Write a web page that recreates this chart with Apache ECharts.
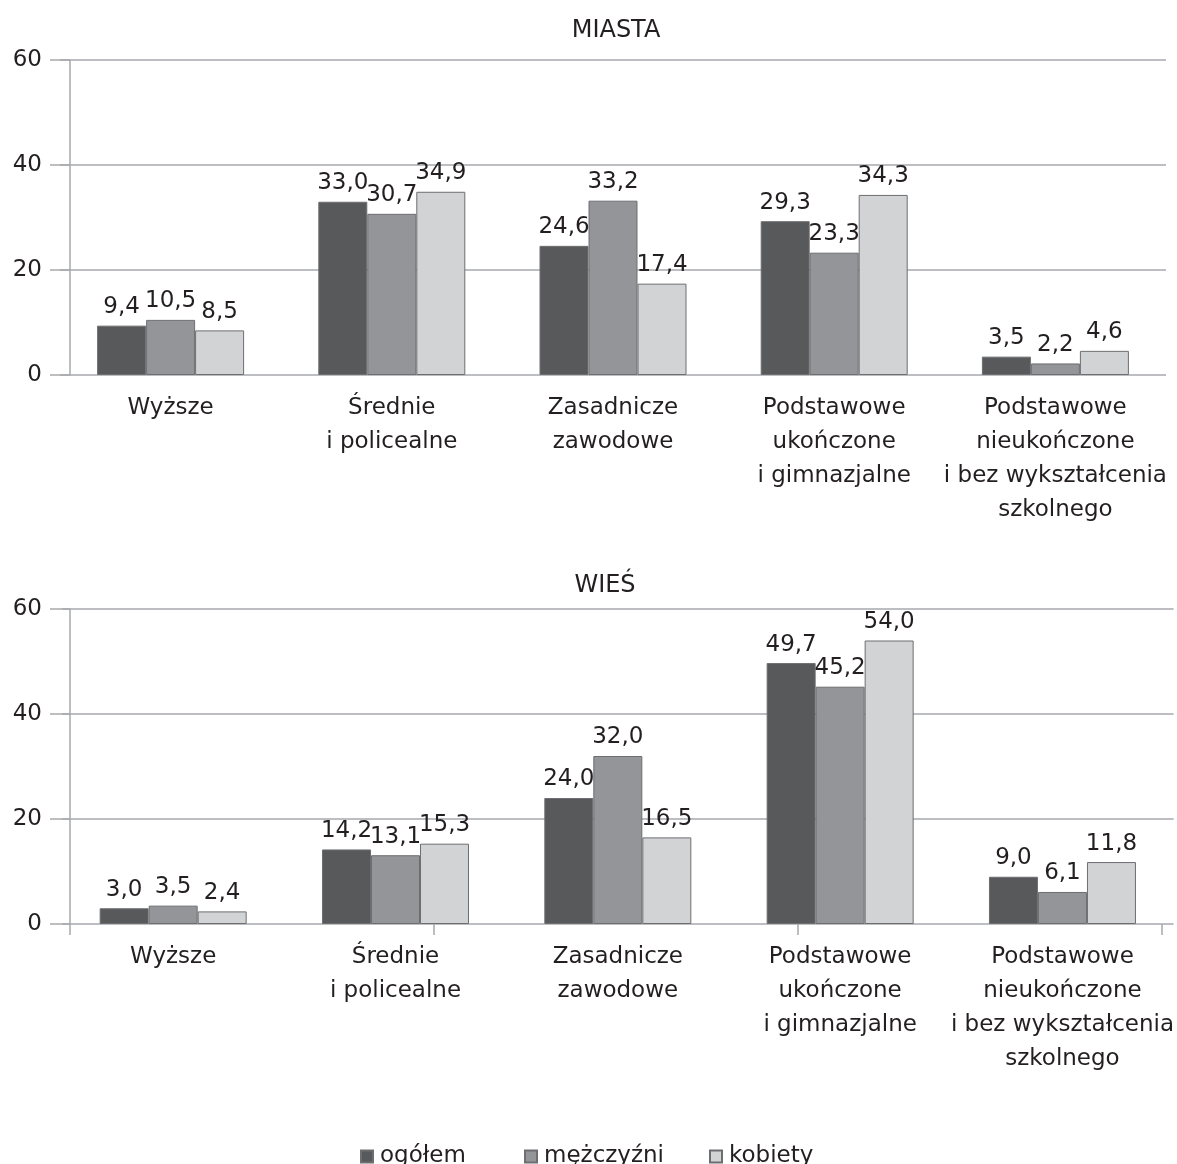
<!DOCTYPE html>
<html>
<head>
<meta charset="utf-8">
<script src="https://cdn.jsdelivr.net/npm/echarts@6/dist/echarts.min.js"></script>
<style>
html,body{margin:0;padding:0;background:#fff;}
#chart{width:1177px;height:1164px;}
</style>
</head>
<body>
<div id="chart"></div>
<script>
const categories = ['Wyższe', 'Średnie\ni policealne', 'Zasadnicze\nzawodowe', 'Podstawowe\nukończone\ni gimnazjalne', 'Podstawowe\nnieukończone\ni bez wykształcenia\nszkolnego'];
const seriesNames = ['ogółem', 'mężczyźni', 'kobiety'];
const miastaOgolem = [9.4, 33.0, 24.6, 29.3, 3.5];
const miastaMezczyzni = [10.5, 30.7, 33.2, 23.3, 2.2];
const miastaKobiety = [8.5, 34.9, 17.4, 34.3, 4.6];
const wiesOgolem = [3.0, 14.2, 24.0, 49.7, 9.0];
const wiesMezczyzni = [3.5, 13.1, 32.0, 45.2, 6.1];
const wiesKobiety = [2.4, 15.3, 16.5, 54.0, 11.8];
const yTicks = [0, 20, 40, 60];
const panelTitles = ['MIASTA', 'WIEŚ'];

const FONT = 'DejaVu Sans';
const TXT = '#231f20';
const GRIDC = '#a7a9ac';
const colors = ['#58595b', '#939598', '#d1d3d4'];

const chart = echarts.init(document.getElementById('chart'));

function fmt(p) { return p.value.toFixed(1).replace('.', ','); }

function makeSeries(name, data, idx, axisIdx) {
  return {
    name: name, type: 'bar', data: data,
    xAxisIndex: axisIdx, yAxisIndex: axisIdx,
    barWidth: 49, barGap: '0%',
    itemStyle: { color: colors[idx], borderColor: '#6d6e71', borderWidth: 1 },
    label: { show: true, position: 'top', distance: 7, formatter: fmt,
      fontFamily: FONT, fontSize: 23, color: TXT },
    emphasis: { disabled: true },
    animation: false
  };
}

function yAxis(gi, off) {
  return {
    type: 'value', gridIndex: gi, min: 0, max: 60, interval: 20, offset: off,
    axisLine: { show: true, lineStyle: { color: GRIDC, width: 1.5 } },
    axisTick: { show: true, length: 20, lineStyle: { color: GRIDC, width: 1.5 } },
    axisLabel: { margin: 28, fontFamily: FONT, fontSize: 23, color: TXT,
      customValues: yTicks },
    splitLine: { show: true, lineStyle: { color: GRIDC, width: 1.5 } }
  };
}

function xAxis(gi) {
  return {
    type: 'category', gridIndex: gi, data: categories,
    axisLine: { show: false }, axisTick: { show: false },
    axisLabel: { interval: 0, margin: 16, fontFamily: FONT, fontSize: 23, color: TXT, lineHeight: 34 }
  };
}

const option = {
  backgroundColor: '#ffffff',
  animation: false,
  grid: [
    { left: 60, right: 11, top: 60, height: 315 },
    { left: 62, right: 3, top: 609, height: 315 }
  ],
  xAxis: [
    xAxis(0), xAxis(1),
    { type: 'value', gridIndex: 1, min: -0.02198, max: 3.03297, position: 'bottom',
      axisLine: { show: false },
      axisTick: { show: true, length: 11, customValues: [0, 1, 2, 3], lineStyle: { color: GRIDC, width: 1.5 } },
      axisLabel: { show: false }, splitLine: { show: false } }
  ],
  yAxis: [ yAxis(0, -10), yAxis(1, -8) ],
  legend: [
    { data: [seriesNames[0]], left: 355, top: 1140 },
    { data: [seriesNames[1]], left: 519, top: 1140 },
    { data: [seriesNames[2]], left: 704, top: 1140 }
  ].map(l => Object.assign(l, {
    icon: 'rect', itemWidth: 12, itemHeight: 12, itemGap: 0,
    textStyle: { fontFamily: FONT, fontSize: 23, color: TXT, padding: [0, 0, 0, 2] },
    selectedMode: false
  })),
  graphic: [
    { type: 'text', x: 616, y: 31, style: { text: panelTitles[0], textAlign: 'center', textVerticalAlign: 'middle', font: '24px "DejaVu Sans"', fill: TXT } },
    { type: 'text', x: 605, y: 586, style: { text: panelTitles[1], textAlign: 'center', textVerticalAlign: 'middle', font: '24px "DejaVu Sans"', fill: TXT } }
  ],
  series: [
    makeSeries(seriesNames[0], miastaOgolem, 0, 0),
    makeSeries(seriesNames[1], miastaMezczyzni, 1, 0),
    makeSeries(seriesNames[2], miastaKobiety, 2, 0),
    makeSeries(seriesNames[0], wiesOgolem, 0, 1),
    makeSeries(seriesNames[1], wiesMezczyzni, 1, 1),
    makeSeries(seriesNames[2], wiesKobiety, 2, 1)
  ]
};
chart.setOption(option);
</script>
</body>
</html>
